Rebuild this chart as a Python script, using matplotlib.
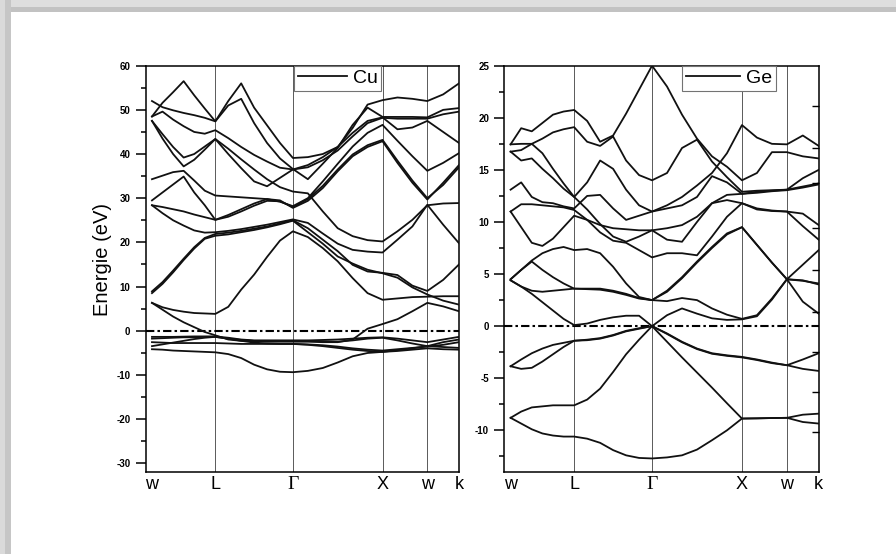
import numpy as np
import matplotlib.pyplot as plt
from matplotlib.patches import Rectangle
from matplotlib.ticker import MultipleLocator

plt.rcParams['font.family'] = ['Liberation Sans', 'DejaVu Sans']
plt.rcParams['axes.unicode_minus'] = False

# path w-L-G-X-w-k, segment lengths in units of 2pi/a, sampling steps per segment
sym_labels = ['w', 'L', 'Γ', 'X', 'w', 'k']
seg_lengths = [np.sqrt(2) / 2, np.sqrt(3) / 2, 1.0, 0.5, np.sqrt(2) / 4]
seg_steps = [6, 6, 6, 3, 2]

sym_pos = np.concatenate([[0.0], np.cumsum(seg_lengths)])
kgrid = [0.0]
for a, b, n in zip(sym_pos[:-1], sym_pos[1:], seg_steps):
    kgrid += list(np.linspace(a, b, n + 1)[1:])
kgrid = np.array(kgrid)

# Cu bands (eV), one value per k sample
cu_1 = [52.0, 50.6, 49.9, 49.3, 48.8, 48.2, 47.4, 51.0, 52.5, 47.0, 42.5, 39.0, 36.6,
        34.3, 37.8, 41.4, 46.6, 50.5, 48.4, 48.4, 48.4, 48.3, 50.0, 50.4]
cu_2 = [48.5, 51.6, 54.0, 56.5, 53.3, 50.3, 47.4, 52.0, 56.0, 50.5, 46.5, 42.5, 39.1,
        39.3, 40.0, 41.6, 45.9, 51.2, 52.2, 52.8, 52.5, 52.0, 53.5, 56.0]
cu_3 = [48.5, 49.6, 47.8, 46.3, 45.0, 44.6, 45.4, 43.6, 41.6, 39.8, 38.3, 36.9, 36.5,
        37.5, 39.3, 41.6, 44.8, 47.5, 48.3, 45.6, 46.0, 47.5, 45.0, 42.5]
cu_4 = [47.5, 44.5, 41.6, 39.2, 40.0, 41.7, 43.4, 40.0, 36.8, 33.8, 32.7, 34.6, 36.5,
        37.0, 38.6, 40.8, 44.0, 47.0, 48.2, 48.0, 48.0, 48.0, 49.0, 49.6]
cu_5 = [47.5, 43.5, 40.0, 37.2, 38.7, 41.0, 43.4, 41.2, 38.8, 36.5, 34.3, 32.5, 31.5,
        31.1, 27.0, 23.2, 21.4, 20.5, 20.2, 22.5, 25.1, 28.4, 28.8, 28.9]
cu_6 = [34.3, 35.1, 35.9, 36.2, 34.0, 31.7, 30.6, 30.4, 30.2, 30.0, 29.8, 29.2, 28.2,
        30.0, 33.8, 37.8, 41.7, 44.8, 46.6, 43.0, 39.5, 36.2, 38.0, 40.2]
cu_7 = [29.5, 31.3, 33.1, 34.9, 31.3, 28.4, 25.1, 26.2, 27.5, 28.8, 29.8, 29.5, 27.8,
        29.4, 32.3, 36.1, 39.5, 41.6, 42.9, 38.0, 33.5, 29.7, 33.5, 37.5]
cu_8 = [28.4, 28.0, 27.5, 27.0, 26.3, 25.7, 25.1, 25.8, 27.0, 28.3, 29.4, 29.3, 28.0,
        29.8, 32.8, 36.5, 39.9, 42.0, 43.2, 38.5, 34.0, 30.0, 33.0, 37.0]
cu_9 = [28.4, 26.6, 25.0, 23.8, 22.7, 22.2, 22.3, 22.6, 23.0, 23.5, 24.0, 24.6, 25.2,
        24.4, 22.0, 19.7, 18.3, 17.9, 17.7, 20.6, 23.6, 28.5, 24.0, 19.8]
cu_10 = [8.9, 11.0, 13.6, 16.3, 18.9, 21.0, 21.9, 22.2, 22.6, 23.1, 23.6, 24.3, 25.0,
         23.2, 20.6, 18.0, 14.9, 13.4, 13.1, 12.6, 10.2, 9.0, 11.5, 15.0]
cu_11 = [8.5, 10.6, 13.2, 16.0, 18.6, 20.8, 21.5, 21.8, 22.3, 22.8, 23.4, 24.1, 24.9,
         22.3, 19.7, 16.8, 15.2, 13.8, 13.0, 12.0, 9.8, 8.2, 6.8, 5.9]
cu_12 = [6.3, 5.3, 4.7, 4.3, 4.0, 3.9, 3.8, 5.4, 9.3, 12.7, 16.7, 20.4, 22.5,
         21.2, 18.7, 15.7, 11.9, 8.5, 7.0, 7.3, 7.6, 7.7, 7.8, 7.8]
cu_13 = [6.3, 4.75, 3.2, 1.9, 0.8, -0.3, -1.05, -2.0, -2.3, -2.4, -2.5, -2.5, -2.5,
         -2.5, -2.6, -2.6, -2.0, 0.45, 1.5, 2.6, 4.4, 6.3, 5.5, 4.4]
cu_d1 = [-1.4, -1.4, -1.4, -1.35, -1.3, -1.3, -1.3, -1.6, -2.0, -2.2, -2.2, -2.2, -2.2,
         -2.2, -2.1, -2.0, -1.8, -1.6, -1.5, -1.8, -2.2, -2.6, -2.0, -1.4]
cu_d2 = [-1.8, -1.7, -1.6, -1.5, -1.5, -1.4, -1.4, -1.8, -2.1, -2.3, -2.3, -2.3, -2.3,
         -2.3, -2.4, -2.5, -2.2, -1.8, -1.6, -2.2, -2.9, -3.5, -2.6, -2.0]
cu_d3 = [-2.6, -2.7, -2.8, -2.8, -2.8, -2.8, -2.8, -2.9, -3.0, -3.0, -3.0, -3.0, -3.0,
         -3.1, -3.3, -3.6, -4.0, -4.3, -4.5, -4.2, -3.9, -3.6, -3.2, -2.6]
cu_d4 = [-3.5, -3.1, -2.7, -2.3, -1.9, -1.6, -1.4, -1.8, -2.3, -2.7, -2.9, -3.0, -3.0,
         -3.2, -3.5, -3.9, -4.3, -4.6, -4.8, -4.4, -4.0, -3.5, -3.7, -3.9]
cu_d5 = [-4.2, -4.3, -4.5, -4.6, -4.7, -4.8, -4.9, -5.3, -6.2, -7.7, -8.75, -9.3, -9.4,
         -9.1, -8.45, -7.2, -5.8, -5.05, -4.8, -4.6, -4.3, -4.0, -4.2, -4.3]

# Ge bands (eV)
ge_1 = [17.45, 19.0, 18.7, 19.5, 20.3, 20.6, 20.75, 19.7, 17.7, 18.3, 20.4, 22.7, 25.0,
        23.0, 20.3, 18.0, 16.3, 15.3, 14.0, 14.7, 16.7, 16.7, 16.3, 16.1]
ge_2 = [16.75, 16.9, 17.5, 18.0, 18.6, 18.9, 19.1, 17.7, 17.3, 18.2, 15.9, 14.5, 14.0,
        14.7, 17.1, 17.9, 15.8, 14.3, 12.9, 13.0, 13.05, 13.1, 13.4, 13.7]
ge_3 = [17.45, 17.5, 17.5, 16.6, 15.1, 13.7, 12.4, 13.8, 15.9, 15.1, 13.1, 11.6, 11.0,
        11.6, 12.4, 13.5, 14.7, 16.6, 19.3, 18.1, 17.5, 17.45, 18.3, 17.3]
ge_4 = [13.1, 13.8, 12.4, 11.9, 11.8, 11.5, 11.3, 12.5, 12.6, 11.3, 10.2, 10.6, 11.0,
        11.3, 11.6, 12.4, 14.4, 13.8, 12.7, 12.9, 13.0, 13.1, 14.2, 15.0]
ge_5 = [16.75, 15.9, 16.1, 15.1, 14.2, 13.2, 12.4, 11.2, 9.8, 8.6, 8.1, 8.6, 9.2,
        8.3, 8.1, 10.0, 11.8, 12.6, 12.7, 12.8, 12.95, 13.05, 13.3, 13.6]
ge_6 = [11.0, 11.7, 11.7, 11.6, 11.5, 11.4, 11.15, 10.2, 9.0, 8.2, 8.0, 7.3, 6.6,
        7.0, 7.0, 6.8, 8.6, 10.5, 11.8, 11.3, 11.1, 11.0, 9.6, 8.3]
ge_7 = [11.0, 9.5, 8.0, 7.7, 8.4, 9.5, 10.6, 10.2, 9.7, 9.4, 9.3, 9.2, 9.2,
        9.4, 9.7, 10.5, 11.8, 12.1, 11.8, 11.2, 11.05, 11.0, 10.8, 9.7]
ge_8 = [4.5, 5.4, 6.3, 7.0, 7.4, 7.6, 7.3, 7.4, 7.0, 5.7, 4.1, 2.8, 2.5,
        3.4, 4.7, 6.2, 7.6, 8.9, 9.5, 7.8, 6.1, 4.5, 5.9, 7.3]
ge_9 = [4.5, 5.4, 6.2, 5.4, 4.7, 4.1, 3.6, 3.6, 3.6, 3.4, 3.1, 2.7, 2.5,
        2.4, 2.7, 2.5, 1.7, 1.1, 0.7, 1.05, 2.65, 4.5, 4.35, 4.1]
ge_10 = [4.4, 3.8, 3.4, 3.3, 3.4, 3.5, 3.6, 3.55, 3.5, 3.3, 3.0, 2.65, 2.5,
         3.3, 4.6, 6.1, 7.5, 8.8, 9.5, 7.8, 6.1, 4.5, 2.35, 1.2]
ge_11 = [4.4, 3.8, 3.1, 2.3, 1.5, 0.7, 0.1, 0.25, 0.6, 0.85, 1.0, 1.0, 0.0,
         1.05, 1.7, 1.2, 0.75, 0.6, 0.65, 0.95, 2.55, 4.5, 4.4, 4.0]
ge_v1 = [-3.85, -3.2, -2.6, -2.15, -1.8, -1.6, -1.4, -1.3, -1.15, -0.85, -0.45, -0.2, 0.0,
         -0.7, -1.5, -2.15, -2.6, -2.8, -2.95, -3.2, -3.5, -3.75, -3.2, -2.6]
ge_v2 = [-3.85, -4.1, -4.0, -3.4, -2.7, -2.0, -1.4, -1.35, -1.2, -0.9, -0.5, -0.25, 0.0,
         -0.75, -1.55, -2.2, -2.65, -2.85, -3.0, -3.25, -3.55, -3.75, -4.1, -4.3]
ge_v3 = [-8.8, -8.2, -7.8, -7.7, -7.6, -7.6, -7.6, -7.05, -6.0, -4.4, -2.7, -1.3, 0.0,
         -1.5, -3.0, -4.45, -5.9, -7.4, -8.87, -8.85, -8.82, -8.8, -8.5, -8.4]
ge_v4 = [-8.8, -9.35, -9.9, -10.3, -10.5, -10.6, -10.6, -10.8, -11.2, -11.9, -12.4, -12.65, -12.7,
         -12.6, -12.4, -11.85, -10.95, -10.0, -8.87, -8.85, -8.82, -8.8, -9.2, -9.35]

cu_bands = [cu_1, cu_2, cu_3, cu_4, cu_5, cu_6, cu_7, cu_8, cu_9, cu_10, cu_11, cu_12,
            cu_13, cu_d1, cu_d2, cu_d3, cu_d4, cu_d5]
ge_bands = [ge_1, ge_2, ge_3, ge_4, ge_5, ge_6, ge_7, ge_8, ge_9, ge_10, ge_11,
            ge_v1, ge_v2, ge_v3, ge_v4]

# inward ticks drawn on the right edge of the Ge panel
ge_right_ticks = [21.1, 17.1, 13.7, 9.4, 5.4, 1.4, -2.5, -6.3, -10.2]

fig = plt.figure(figsize=(8.96, 5.54), dpi=100)

# grey frame along the top and left edges
for (x0, y0, w, h, c) in [(0, 1 - 12 / 554, 1, 12 / 554, '#c2c2c2'),
                          (0, 1 - 7 / 554, 1, 7 / 554, '#dedede'),
                          (0, 0, 11 / 896, 1, '#c6c6c6'),
                          (0, 0, 5 / 896, 1, '#dadada')]:
    fig.patches.append(Rectangle((x0, y0), w, h, transform=fig.transFigure,
                                 facecolor=c, edgecolor='none', zorder=0))

ax_cu = fig.add_axes([145.7 / 896, 82 / 554, 313.3 / 896, 406.3 / 554])
ax_ge = fig.add_axes([504.3 / 896, 82 / 554, 314.4 / 896, 406.3 / 554])


def draw_panel(ax, bands, name, ylim, major, minor, leg_x, handle_len):
    for i, band in enumerate(bands):
        ax.plot(kgrid, band, color='#111111', lw=1.3,
                label=name if i == 0 else None, zorder=3)
    for p in sym_pos[1:-1]:
        ax.axvline(p, color='0.35', lw=0.7, zorder=1)
    ax.axhline(0, color='black', lw=1.5, linestyle=(0, (4, 1.5, 1.2, 1.5)), zorder=2)
    ax.set_xlim(-0.07, sym_pos[-1])
    ax.set_ylim(*ylim)
    ax.set_xticks(sym_pos)
    ax.set_xticklabels(sym_labels, fontsize=13)
    for lab in ax.get_xticklabels():
        if lab.get_text() == 'Γ':
            lab.set_family('Liberation Serif')
            lab.set_fontsize(14)
    ax.tick_params(axis='x', length=0, pad=3)
    ax.yaxis.set_major_locator(MultipleLocator(major))
    ax.yaxis.set_minor_locator(MultipleLocator(minor))
    ax.tick_params(axis='y', which='major', direction='out', length=7, width=1.1,
                   labelsize=7, pad=4)
    ax.tick_params(axis='y', which='minor', direction='out', length=3.5, width=1.1)
    for lab in ax.get_yticklabels():
        lab.set_fontweight('bold')
    for sp in ax.spines.values():
        sp.set_linewidth(1.1)
    leg = ax.legend(loc='upper left', bbox_to_anchor=(leg_x, 1.0), borderaxespad=0,
                    fancybox=False, framealpha=1, edgecolor='0.45', fontsize=14,
                    handlelength=handle_len, handletextpad=0.3, borderpad=0.2)
    leg.get_frame().set_linewidth(0.8)


draw_panel(ax_cu, cu_bands, 'Cu', (-32, 60), 10, 5, 0.474, 2.5)
draw_panel(ax_ge, ge_bands, 'Ge', (-14, 25), 5, 2.5, 0.564, 2.8)

twin = ax_ge.twinx()
twin.set_ylim(ax_ge.get_ylim())
twin.set_yticks(ge_right_ticks)
twin.tick_params(axis='y', direction='in', length=5, width=1.0, labelright=False)
for sp in twin.spines.values():
    sp.set_visible(False)

fig.text(102 / 896, 1 - 260 / 554, 'Energie (eV)', rotation=90, fontsize=14.5,
         ha='center', va='center')

fig.savefig('out.png', dpi=100, facecolor='white')
